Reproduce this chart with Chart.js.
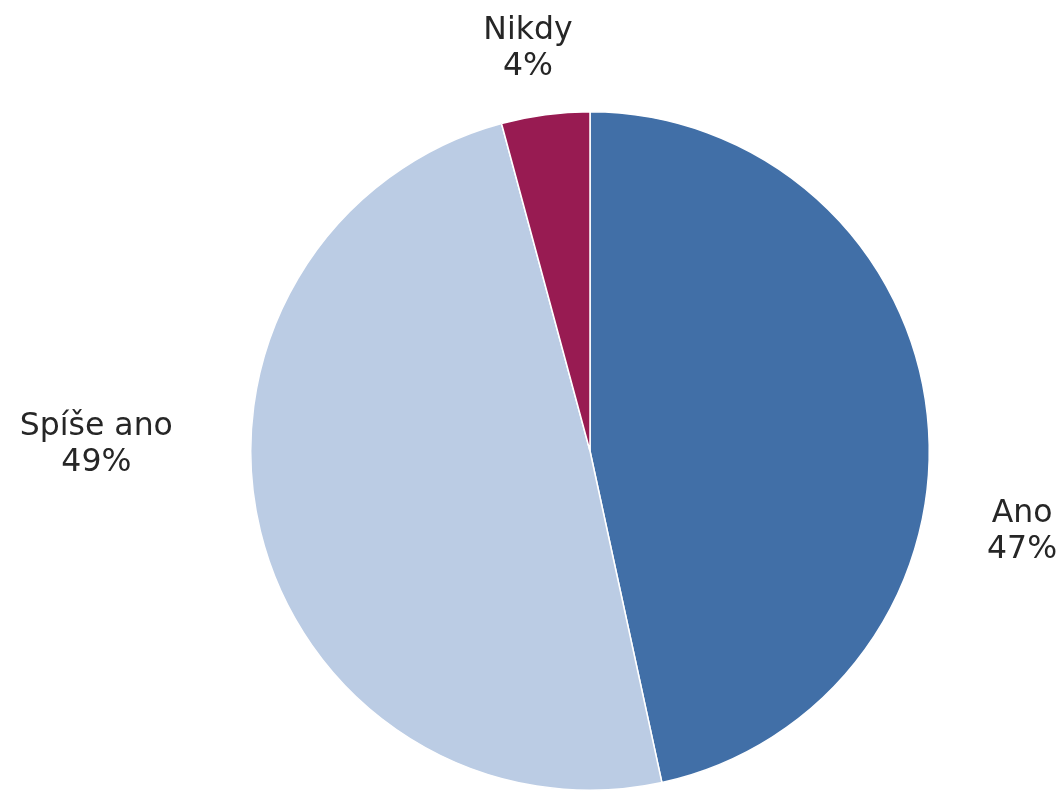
<!DOCTYPE html>
<html>
<head>
    <meta charset="utf-8">
    <script src="https://cdn.jsdelivr.net/npm/chart.js"></script>
    <style>
        body { margin: 0; background: #fff; }
    </style>
</head>
<body>
    <canvas id="pieChart" width="1062" height="791"></canvas>

    <script>
        const categories = ["Ano", "Spíše ano", "Nikdy"];
        const shares = [46.6, 49.2, 4.2];
        const sliceColors = ["#416fa7", "#bbcce4", "#981b52"];

        // Excel-style label nudges (px) relative to the outside-end spot of each slice
        const labelNudge = [[48, 119], [-78, -101], [-10, -21]];

        const outsideLabels = {
            id: "outsideLabels",
            afterDatasetsDraw(chart) {
                const ctx = chart.ctx;
                const meta = chart.getDatasetMeta(0);
                const total = shares.reduce((a, b) => a + b, 0);
                const fontSize = 31.5;
                const lineH = 36.5;
                ctx.save();
                ctx.font = fontSize + "px 'DejaVu Sans', Verdana, sans-serif";
                ctx.fillStyle = "#262626";
                ctx.textAlign = "center";
                ctx.textBaseline = "alphabetic";
                meta.data.forEach((arc, i) => {
                    const p = arc.getProps(["x", "y", "startAngle", "endAngle", "outerRadius"], true);
                    const mid = (p.startAngle + p.endAngle) / 2;
                    const dx = Math.cos(mid), dy = Math.sin(mid);
                    const lines = [categories[i], Math.round(shares[i] / total * 100) + "%"];
                    const w = Math.max(...lines.map(t => ctx.measureText(t).width));
                    const h = lineH * 2;
                    const r = p.outerRadius + 12;
                    const cx = p.x + dx * r + dx * w / 2 + labelNudge[i][0];
                    const cy = p.y + dy * r + dy * h / 2 + labelNudge[i][1];
                    ctx.fillText(lines[0], cx, cy - 7);
                    ctx.fillText(lines[1], cx, cy - 7 + lineH);
                });
                ctx.restore();
            }
        };

        const pieChart = new Chart("pieChart", {
            type: "pie",
            data: {
                labels: categories,
                datasets: [{
                    data: shares,
                    backgroundColor: sliceColors,
                    borderColor: "#ffffff",
                    borderWidth: 1.5,
                    hoverOffset: 0,
                }]
            },
            options: {
                responsive: false,
                animation: false,
                layout: {
                    padding: { left: 250, right: 132, top: 111, bottom: 0 }
                },
                plugins: {
                    legend: { display: false },
                    tooltip: { enabled: false },
                }
            },
            plugins: [outsideLabels],
        });
    </script>
</body>
</html>
